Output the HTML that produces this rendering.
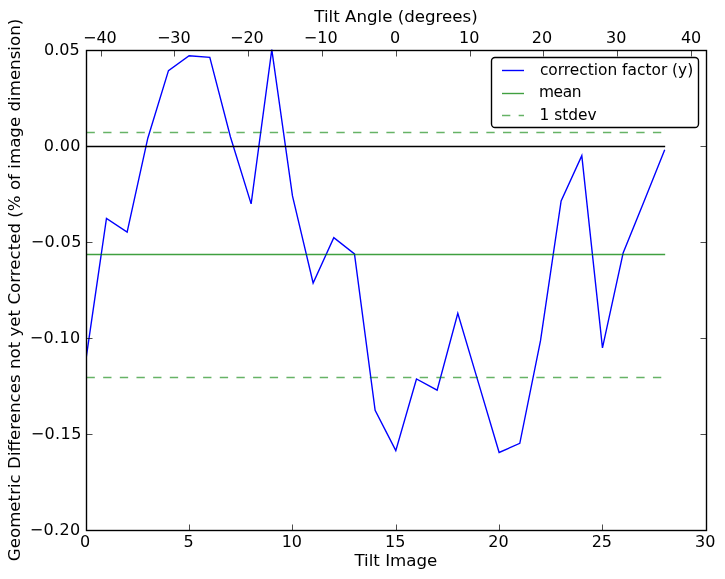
<!DOCTYPE html>
<html lang="en"><head><meta charset="utf-8"><title>Tilt Image plot</title>
<style>html,body{margin:0;padding:0;background:#fff;}body{width:725px;height:579px;overflow:hidden;}svg{display:block;will-change:transform;-webkit-font-smoothing:antialiased;}text{font-family:'DejaVu Sans','Liberation Sans',sans-serif;fill:#000;}</style>
</head><body>
<svg width="725" height="579" viewBox="0 0 725 579">
<rect x="0" y="0" width="725" height="579" fill="#ffffff"/>
<defs><clipPath id="axclip"><rect x="86" y="49" width="620.5" height="481.5"/></clipPath></defs>
<g fill="none" stroke-linejoin="miter" stroke-linecap="butt" clip-path="url(#axclip)">
<polyline points="85.80,360.50 106.47,218.40 127.13,232.20 147.80,138.20 168.47,70.60 189.13,55.70 209.80,57.40 230.47,137.00 251.13,203.90 271.80,49.60 292.47,195.90 313.13,283.00 333.80,237.70 354.47,253.90 375.13,410.30 395.80,450.60 416.47,379.00 437.13,390.20 457.80,313.30 478.47,382.90 499.13,452.50 519.80,443.30 540.47,340.90 561.13,200.90 581.80,155.60 602.47,347.90 623.13,253.00 643.80,201.90 664.47,150.50" stroke="#0000ff" stroke-width="1.39" stroke-linecap="square"/>
<line x1="86.50" y1="146.5" x2="664.47" y2="146.5" stroke="#000" stroke-width="1.39" stroke-linecap="square"/>
<line x1="86.50" y1="254.5" x2="664.47" y2="254.5" stroke="#008000" stroke-opacity="0.75" stroke-width="1.39" stroke-linecap="square"/>
<line x1="86.50" y1="132.5" x2="664.47" y2="132.5" stroke="#008000" stroke-opacity="0.6" stroke-width="1.39" stroke-dasharray="8.33 8.33"/>
<line x1="86.50" y1="377.5" x2="664.47" y2="377.5" stroke="#008000" stroke-opacity="0.6" stroke-width="1.39" stroke-dasharray="8.33 8.33"/>
</g>
<rect x="86.5" y="50.5" width="620.0" height="480.0" fill="none" stroke="#000" stroke-width="1.39"/>
<g stroke="#000" stroke-width="0.7">
<line x1="86.5" y1="530.5" x2="86.5" y2="524.5"/>
<line x1="189.5" y1="530.5" x2="189.5" y2="524.5"/>
<line x1="292.5" y1="530.5" x2="292.5" y2="524.5"/>
<line x1="396.5" y1="530.5" x2="396.5" y2="524.5"/>
<line x1="499.5" y1="530.5" x2="499.5" y2="524.5"/>
<line x1="602.5" y1="530.5" x2="602.5" y2="524.5"/>
<line x1="706.5" y1="530.5" x2="706.5" y2="524.5"/>
<line x1="101.5" y1="50.5" x2="101.5" y2="56.5"/>
<line x1="174.5" y1="50.5" x2="174.5" y2="56.5"/>
<line x1="248.5" y1="50.5" x2="248.5" y2="56.5"/>
<line x1="322.5" y1="50.5" x2="322.5" y2="56.5"/>
<line x1="396.5" y1="50.5" x2="396.5" y2="56.5"/>
<line x1="470.5" y1="50.5" x2="470.5" y2="56.5"/>
<line x1="543.5" y1="50.5" x2="543.5" y2="56.5"/>
<line x1="617.5" y1="50.5" x2="617.5" y2="56.5"/>
<line x1="691.5" y1="50.5" x2="691.5" y2="56.5"/>
<line x1="86.5" y1="50.5" x2="92.5" y2="50.5"/>
<line x1="706.5" y1="50.5" x2="700.5" y2="50.5"/>
<line x1="86.5" y1="146.5" x2="92.5" y2="146.5"/>
<line x1="706.5" y1="146.5" x2="700.5" y2="146.5"/>
<line x1="86.5" y1="242.5" x2="92.5" y2="242.5"/>
<line x1="706.5" y1="242.5" x2="700.5" y2="242.5"/>
<line x1="86.5" y1="338.5" x2="92.5" y2="338.5"/>
<line x1="706.5" y1="338.5" x2="700.5" y2="338.5"/>
<line x1="86.5" y1="434.5" x2="92.5" y2="434.5"/>
<line x1="706.5" y1="434.5" x2="700.5" y2="434.5"/>
<line x1="86.5" y1="530.5" x2="92.5" y2="530.5"/>
<line x1="706.5" y1="530.5" x2="700.5" y2="530.5"/>
</g>
<g font-size="16">
<text x="85.20" y="546.9" text-anchor="middle">0</text>
<text x="188.53" y="546.9" text-anchor="middle">5</text>
<text x="291.87" y="546.9" text-anchor="middle">10</text>
<text x="395.20" y="546.9" text-anchor="middle">15</text>
<text x="498.53" y="546.9" text-anchor="middle">20</text>
<text x="601.87" y="546.9" text-anchor="middle">25</text>
<text x="705.20" y="546.9" text-anchor="middle">30</text>
<text x="99.90" y="43.0" text-anchor="middle">−40</text>
<text x="173.80" y="43.0" text-anchor="middle">−30</text>
<text x="246.90" y="43.0" text-anchor="middle">−20</text>
<text x="320.70" y="43.0" text-anchor="middle">−10</text>
<text x="395.20" y="43.0" text-anchor="middle">0</text>
<text x="469.30" y="43.0" text-anchor="middle">10</text>
<text x="541.90" y="43.0" text-anchor="middle">20</text>
<text x="616.30" y="43.0" text-anchor="middle">30</text>
<text x="691.10" y="43.0" text-anchor="middle">40</text>
<text x="44.1" y="54.6" letter-spacing="0.00">0.05</text>
<text x="43.7" y="150.6" letter-spacing="0.40">0.00</text>
<text x="30.7" y="246.6" letter-spacing="0.40">−0.05</text>
<text x="29.8" y="342.6" letter-spacing="0.35">−0.10</text>
<text x="30.7" y="438.6" letter-spacing="0.40">−0.15</text>
<text x="29.8" y="534.6" letter-spacing="0.35">−0.20</text>
</g>
<g font-size="16.67">
<text x="396.0" y="22.1" text-anchor="middle">Tilt Angle (degrees)</text>
<text x="395.9" y="566" text-anchor="middle">Tilt Image</text>
<text transform="translate(20.1,290) rotate(-90)" text-anchor="middle">Geometric Differences not yet Corrected (% of image dimension)</text>
</g>
<rect x="491.5" y="57.5" width="207" height="70" rx="3.5" ry="3.5" fill="#fff" stroke="#000" stroke-width="1.39"/>
<g fill="none" stroke-width="1.39">
<line x1="502" y1="70.5" x2="524" y2="70.5" stroke="#0000ff"/>
<line x1="502" y1="93.5" x2="524" y2="93.5" stroke="#008000" stroke-opacity="0.75"/>
<line x1="502" y1="115.5" x2="524" y2="115.5" stroke="#008000" stroke-opacity="0.6" stroke-dasharray="8.33 8.33"/>
</g>
<g font-size="15.40">
<text x="539.9" y="74.6">correction factor (y)</text>
<text x="538.9" y="97" letter-spacing="-0.35">mean</text>
<text x="539.6" y="119.5">1 stdev</text>
</g>
</svg>
</body></html>
